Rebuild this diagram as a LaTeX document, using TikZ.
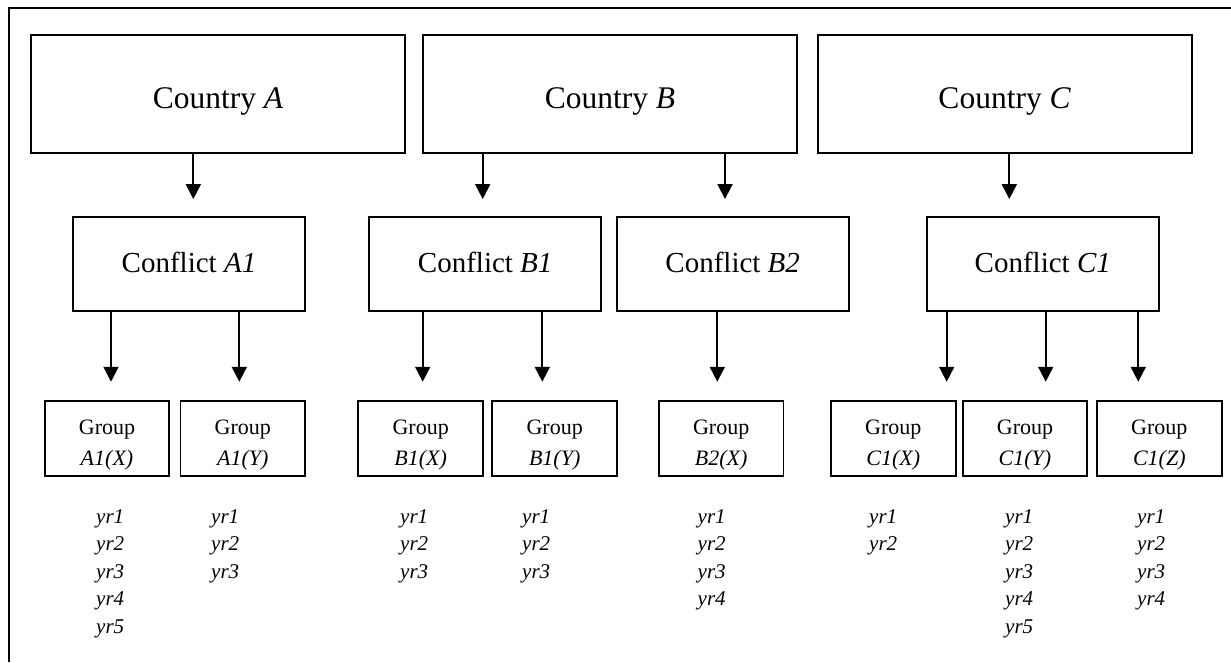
\documentclass[tikz,border=0pt]{standalone}
\usepackage{fontspec}
\setmainfont{Liberation Serif}
\usetikzlibrary{arrows.meta}
\begin{document}
\begin{tikzpicture}[x=1pt,y=-1pt,
  box/.style={draw, line width=1.9pt, inner sep=0pt, anchor=center},
  countrybox/.style={box, minimum width=374pt, minimum height=118pt,
    font=\fontsize{31.5}{36}\selectfont, text height=29pt, text depth=0pt},
  conflictbox/.style={box, minimum width=232pt, minimum height=94pt,
    font=\fontsize{29}{34}\selectfont, text height=20pt, text depth=2.6pt},
  groupbox/.style={box, minimum width=124.6pt, minimum height=75pt, align=center,
    font=\fontsize{22}{31}\selectfont, text height=56pt, text depth=3pt},
  years/.style={anchor=base west, inner sep=0pt, align=left,
    font=\fontsize{21}{27.5}\selectfont\itshape},
  arr/.style={line width=1.9pt, -{Triangle[length=15pt,width=15pt]}},
  toconflict/.style={arr, shorten >=17pt},
  togroup/.style={arr, shorten >=18.3pt}
]
\useasboundingbox (0,0) rectangle (1231,662);

% outer frame (runs off the right and bottom edges)
\draw[line width=1.9pt] (9.3,662) -- (9.3,8) -- (1231,8);

% countries
\node[countrybox] (cA) at (218,94) {Country \textit{A}};
\node[countrybox] (cB) at (610,94) {Country \textit{B}};
\node[countrybox] (cC) at (1004.7,94) {Country \textit{C}};

% conflicts
\node[conflictbox] (fA1) at (189,264) {Conflict \textit{A1}};
\node[conflictbox] (fB1) at (485.2,264) {Conflict \textit{B1}};
\node[conflictbox] (fB2) at (732.7,264) {Conflict \textit{B2}};
\node[conflictbox] (fC1) at (1042.8,264) {Conflict \textit{C1}};

% groups
\node[groupbox] (gA1X) at (107,438.5) {Group\\\textit{A1(X)}};
\node[groupbox] (gA1Y) at (242.8,438.5) {Group\\\textit{A1(Y)}};
\node[groupbox] (gB1X) at (420.7,438.5) {Group\\\textit{B1(X)}};
\node[groupbox] (gB1Y) at (554.7,438.5) {Group\\\textit{B1(Y)}};
\node[groupbox] (gB2X) at (721.2,438.5) {Group\\\textit{B2(X)}};
\node[groupbox] (gC1X) at (893.3,438.5) {Group\\\textit{C1(X)}};
\node[groupbox] (gC1Y) at (1025,438.5) {Group\\\textit{C1(Y)}};
\node[groupbox] (gC1Z) at (1159.3,438.5) {Group\\\textit{C1(Z)}};

% years observed for each group (anchored at the baseline of the last line)
\node[years] (yA1X) at (96,633.3)   {yr1\\yr2\\yr3\\yr4\\yr5};
\node[years] (yA1Y) at (211,578.3)  {yr1\\yr2\\yr3};
\node[years] (yB1X) at (400,578.3)  {yr1\\yr2\\yr3};
\node[years] (yB1Y) at (522,578.3)  {yr1\\yr2\\yr3};
\node[years] (yB2X) at (697.5,605.8) {yr1\\yr2\\yr3\\yr4};
\node[years] (yC1X) at (869,550.8)  {yr1\\yr2};
\node[years] (yC1Y) at (1005,633.3) {yr1\\yr2\\yr3\\yr4\\yr5};
\node[years] (yC1Z) at (1137,605.8) {yr1\\yr2\\yr3\\yr4};

% connector columns
\coordinate (xA)  at (193.3,0);
\coordinate (xB1) at (482.7,0);
\coordinate (xB2) at (725,0);
\coordinate (xC)  at (1009.3,0);
\coordinate (xA1X) at (111,0);
\coordinate (xA1Y) at (239.3,0);
\coordinate (xB1X) at (422.7,0);
\coordinate (xB1Y) at (542.3,0);
\coordinate (xB2X) at (717.3,0);
\coordinate (xC1X) at (946.7,0);
\coordinate (xC1Y) at (1045.7,0);
\coordinate (xC1Z) at (1138.3,0);

% country -> conflict
\draw[toconflict] (xA |- cA.south)  -- (xA |- fA1.north);
\draw[toconflict] (xB1 |- cB.south) -- (xB1 |- fB1.north);
\draw[toconflict] (xB2 |- cB.south) -- (xB2 |- fB2.north);
\draw[toconflict] (xC |- cC.south)  -- (xC |- fC1.north);

% conflict -> group
\draw[togroup] (xA1X |- fA1.south) -- (xA1X |- gA1X.north);
\draw[togroup] (xA1Y |- fA1.south) -- (xA1Y |- gA1Y.north);
\draw[togroup] (xB1X |- fB1.south) -- (xB1X |- gB1X.north);
\draw[togroup] (xB1Y |- fB1.south) -- (xB1Y |- gB1Y.north);
\draw[togroup] (xB2X |- fB2.south) -- (xB2X |- gB2X.north);
\draw[togroup] (xC1X |- fC1.south) -- (xC1X |- gC1X.north);
\draw[togroup] (xC1Y |- fC1.south) -- (xC1Y |- gC1Y.north);
\draw[togroup] (xC1Z |- fC1.south) -- (xC1Z |- gC1Z.north);
\end{tikzpicture}
\end{document}
